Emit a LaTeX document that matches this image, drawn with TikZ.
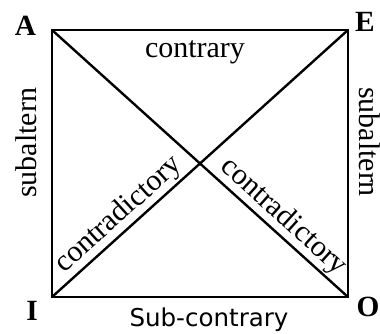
\documentclass[tikz,border=0pt]{standalone}
\usepackage{fontspec}
\setmainfont{Liberation Serif}
\newfontfamily\sansfnt{DejaVu Sans}
\begin{document}
\begin{tikzpicture}[x=0.75pt,y=-0.75pt,
    edge/.style={line width=1.8pt},
    rel/.style={font=\fontsize{22.5}{27}\selectfont},
    corner/.style={font=\fontsize{22}{26}\selectfont\bfseries}]
        \useasboundingbox (0,0) rectangle (380,334);
        % Vertici del quadrato
        \coordinate (a) at (52,30);
        \coordinate (e) at (348,30);
        \coordinate (i) at (52,297);
        \coordinate (o) at (348,297);
        % Lati e diagonali
        \draw[edge] (a) -- (e) -- (o) -- (i) -- cycle;
        \draw[edge] (a) -- (o) node[rel, sloped, above, inner sep=1pt, pos=0.745] (contrdx) {contradictory};
        \draw[edge] (i) -- (e) node[rel, sloped, above, inner sep=1pt, pos=0.262] (contrsx) {contradictory};
        % Relazioni
        \node[rel] (contr) at (195,52) {contrary};
        \node[font=\sansfnt\fontsize{18.4}{22}\selectfont] (subcontr) at (209,320) {Sub-contrary};
        \node[rel, rotate=90] (subsx) at (26,143) {subaltern};
        \node[rel, rotate=-90] (subdx) at (370,142) {subaltern};
        % Lettere
        \node[corner] (la) at (25.5,26) {A};
        \node[corner] (le) at (365,22) {E};
        \node[corner] (li) at (32,311) {I};
        \node[corner] (lo) at (368,307) {O};
    \end{tikzpicture}
\end{document}
